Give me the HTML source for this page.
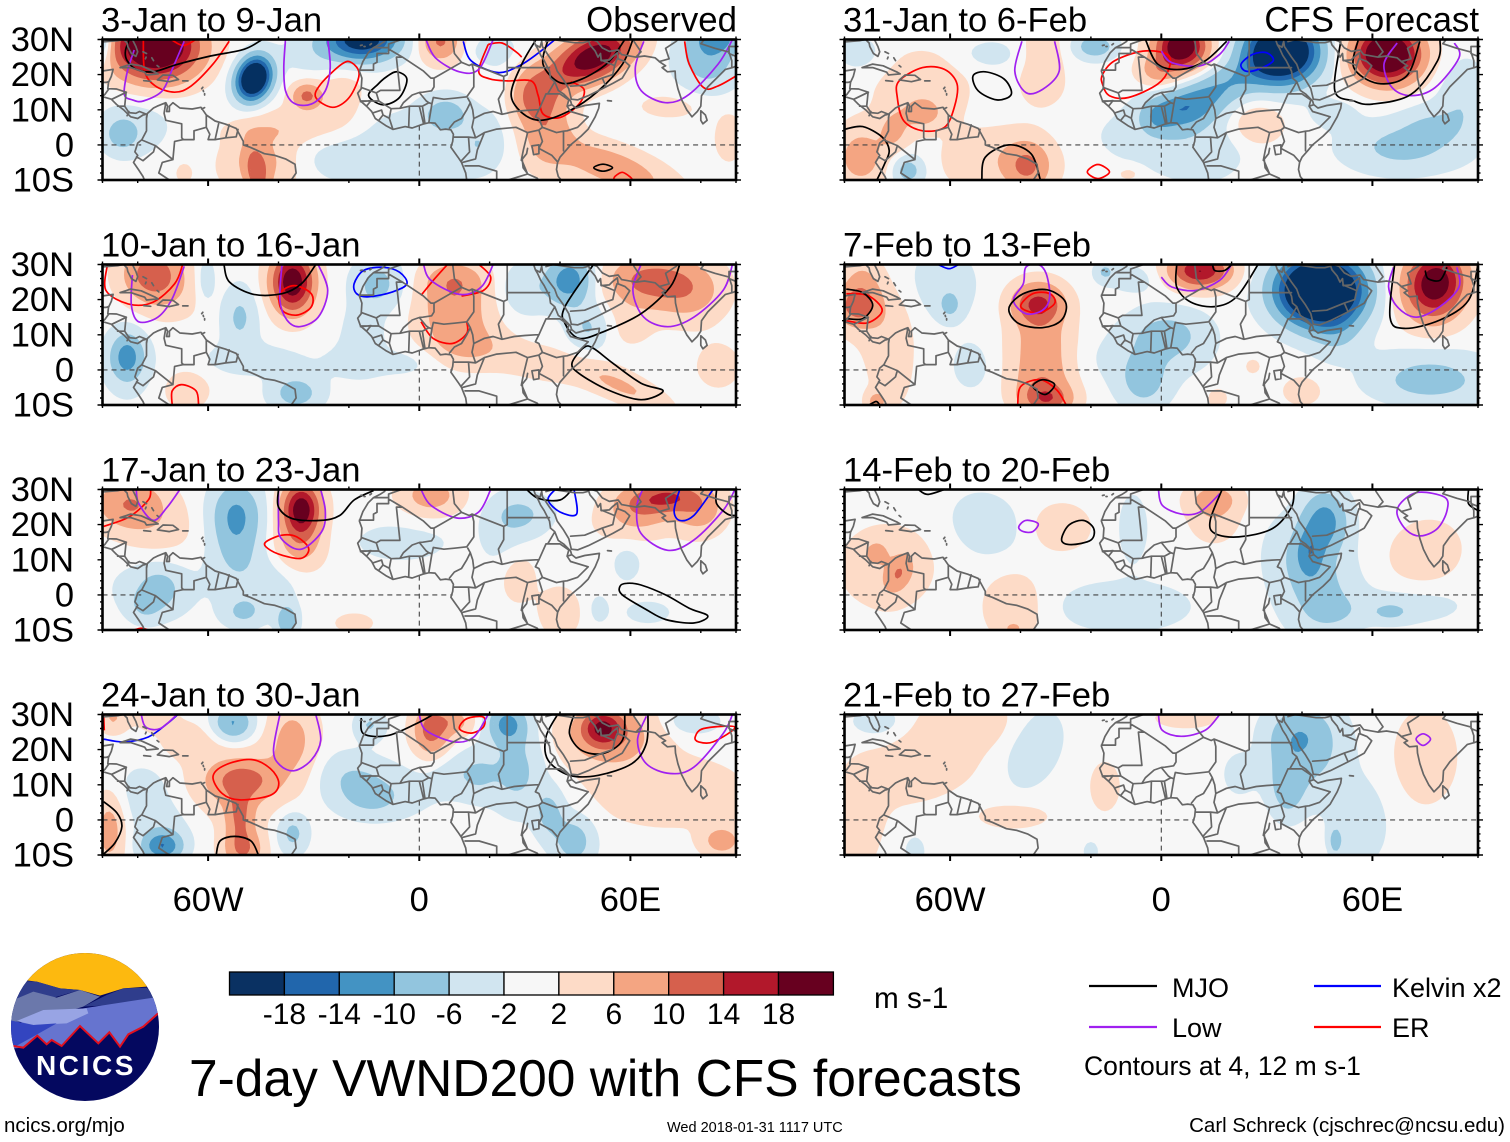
<!DOCTYPE html>
<html lang="en">
<head>
<meta charset="utf-8">
<title>7-day VWND200 with CFS forecasts</title>
<style>
html,body{margin:0;padding:0;background:#fff;}
svg{display:block;font-family:"Liberation Sans",sans-serif;}
</style>
</head>
<body>
<svg id="chart" xmlns="http://www.w3.org/2000/svg" width="1510" height="1142" viewBox="0 0 1510 1142">
  <rect width="1510" height="1142" fill="#fff"/>
  <g id="panels"></g>
  <g id="colorbar"></g>
  <text x="874" y="1008" font-size="29.7">m s-1</text>
  <text x="189" y="1096" font-size="51.5">7-day VWND200 with CFS forecasts</text>

  <g>
    <line x1="1089" x2="1157" y1="986" y2="986" stroke="#000" stroke-width="2.2"/>
    <text x="1172" y="997" font-size="27">MJO</text>
    <line x1="1089" x2="1157" y1="1027" y2="1027" stroke="#a020f0" stroke-width="2.2"/>
    <text x="1172" y="1037" font-size="27">Low</text>
    <line x1="1314" x2="1381" y1="986" y2="986" stroke="#0000ff" stroke-width="2.2"/>
    <text x="1392" y="997" font-size="27">Kelvin x2</text>
    <line x1="1314" x2="1381" y1="1027" y2="1027" stroke="#ff0000" stroke-width="2.2"/>
    <text x="1392" y="1037" font-size="27">ER</text>
    <text x="1084" y="1075" font-size="26.5">Contours at 4, 12 m s-1</text>
  </g>

  <text x="4" y="1132" font-size="20.5">ncics.org/mjo</text>
  <text x="667" y="1132" font-size="14.5">Wed 2018-01-31 1117 UTC</text>
  <text x="1505" y="1132" font-size="20.5" text-anchor="end">Carl Schreck (cjschrec@ncsu.edu)</text>

  <g>
    <clipPath id="logoClip"><circle cx="85" cy="1027" r="74"/></clipPath>
    <g clip-path="url(#logoClip)">
      <g transform="translate(0,945) scale(0.3333)">
        <rect x="0" y="0" width="520" height="520" fill="#04085f"/>
        <polygon points="0,0 520,0 520,135 440,125 370,130 300,152 240,135 180,130 110,110 70,105 0,120" fill="#fdb90f"/>
        <polygon points="70,108 110,110 180,130 240,135 120,170 40,170" fill="#2f3d8c"/>
        <polygon points="30,230 40,165 100,140 170,158 240,135 300,155 250,185 100,230" fill="#6b78ab"/>
        <polygon points="250,185 320,150 370,130 440,128 480,170 340,180" fill="#2f3d8c"/>
        <polygon points="40,310 50,235 250,190 480,155 480,205 430,245 385,268 360,305 328,262 295,295 240,243 185,303 155,285 140,298 112,272 70,308" fill="#6674cf"/>
        <polygon points="50,228 130,195 260,190 265,205 200,235 100,240" fill="#98a4e4"/>
        <polygon points="25,225 100,240 170,235 90,280 45,305 25,305" fill="#3345c0"/>
        <polyline points="40,303 70,308 112,272 140,298 155,285 185,303 240,243 295,295 328,262 360,305 385,268 430,245 480,200" fill="none" stroke="#e01020" stroke-width="6"/>
      </g>
    </g>
    <text x="86" y="1075" font-size="28" font-weight="bold" fill="#fff" text-anchor="middle" letter-spacing="2.6">NCICS</text>
  </g>
</svg>

<script>
/* ---------- panel labels ---------- */
const panelTitles = ["3-Jan to 9-Jan","10-Jan to 16-Jan","17-Jan to 23-Jan","24-Jan to 30-Jan","31-Jan to 6-Feb","7-Feb to 13-Feb","14-Feb to 20-Feb","21-Feb to 27-Feb"];
const latTickLabels = [[30,"30N"],[20,"20N"],[10,"10N"],[0,"0"],[-10,"10S"]];
const lonTickLabels = [[-60,"60W"],[0,"0"],[60,"60E"]];
const colorLevels = [2,6,10,14,18];
const warmColors = ["#fddbc7","#f4a582","#d6604d","#b2182b","#67001f"];
const coolColors = ["#d1e5f0","#92c5de","#4393c3","#2166ac","#053061"];
const colorbarColors = ["#0a3162","#2166ac","#4393c3","#92c5de","#d1e5f0","#f7f7f7","#fddbc7","#f4a582","#d6604d","#b2182b","#67001f"];
const colorbarLabels = ["-18","-14","-10","-6","-2","2","6","10","14","18"];

/* ---------- anomaly centres: [lon, lat, spreadLon, spreadLat, peak m/s, tilt] ---------- */
const blobsP1 = [
 [-75,28,8.5,6.5,28,0],[-90,30,2,5,-10,0],[-47,18.9,3.2,4.2,-32,-20],[-32,14,3,2.6,10,0],[-33,6,10,4,3,0],[-22,15,5,7,2.8,0],[-45,4,7,2.5,2.2,0],
 [-16,30,7,4,-22,0],[-27,26,8,4.5,-3,0],[-46,-9,2.3,6,8.5,8],[-45,-4,6,5,4,0],[-45,-7,10,7,2,0],[-84.5,3,3.5,3.5,-6,0],[-80,6,8,7,-2.2,0],
 [7.5,9,4.5,3.5,-6.5,0],[-5,1,18,7,-2.5,0],[0,-8,8,4,-2,0],[33,13.5,5.5,6,12,0],[49.5,25,8.5,4.5,22,25],[37,1,5,6,6,-20],
 [55,-6.5,12,4,8,-20],[6,29.5,4,4,10,0],[82,26,6,7,-8,0],[85,31,4,3,-8,0],[72,11,8,3,2.2,0],[88,2,3,5,3,0],
 [21,27,5,3,-2.5,0],[17,0,4,5,-3.5,0],[-67,-8,2,2.5,2,0],[-22,-5,8,4,-2.2,0],[25,14,4,8,-2.2,0]
];
const blobsP2 = [
 [-36,25,4.2,6,22,0],[-75.6,27.4,6,5.5,12,0],[-70,20,7,5,2,0],[-83,3.8,3.2,4.5,-9,0],[-83,2,5,7,-3,0],
 [-51,15,3.5,6,-5.5,0],[-60.7,25.5,2,5,-3.5,0],[-35,-6.6,5,3.5,-7,0],[-47,3,11,3.5,-2.5,0],[-66,-5.7,4,3.5,4.5,0],
 [-11.7,24.5,5,5,-6,0],[-16,10,4,6,-3.5,0],[10,18,7,7,8,0],[13,7,7,4.5,4,0],[10,26,6,3.5,5,0],
 [42.7,25.5,4.5,5,-12,-10],[48,12,4,4.5,-5,0],[30,23,5,5,-4,0],[64.5,25.5,8,5,10,0],[76.7,22.6,7,6,7,0],[60,13,5,5,2.2,0],
 [57.7,-4.7,10,2.8,5,-25],[30,3,15,4,2.5,-15],[85,1,5,5,2.5,0],[-20,2,6,4,-1.5,0],[-5,2,8,3,-2,0]
];
const blobsP3 = [
 [-33.5,24.5,3.8,5.2,21,0],[-34,14,5,5,6,0],[-82.4,26,7,5,9,0],[-74,18,8,6,2.5,0],[-52,24,5,6,-6.5,0],[-52,15,5,9,-6,0],
 [-42,3,6,6,-2.5,-30],[-37.5,-7.5,2,3,-9,0],[-50,-5,4,3,-5,0],[-74,1.5,4,4,-5,0],[-78,-3,3,3,-4,0],[-75,2,10,7,-2.5,0],
 [-5,15,12,5,-2,0],[25,15,5,8,-2.5,0],[29,23,6,4,-5,0],[3.3,28.3,6,4,7,0],[27.8,6,4,6,3.5,0],[40,-5,4,5,3.5,0],[-18.5,-8,4,2,3,0],
 [63,26,6,4,9,0],[71,28,5,3,10,0],[79.5,25,5,5,8,0],[60,20,8,4,2.5,0],[59,9,3,4,-2.5,0],[51,-4,2,3,-2.5,0],[65,-5,6,3,-2,0]
];
const blobsP4 = [
 [-50,11.3,6.5,3.8,8,0],[-51,1,2.8,5,8,0],[-50,-8.5,4,4,9,0],[-52,10,10,8,4,0],[-36,22.6,5,8,6,0],[-65,22.6,7,4,2.5,0],
 [-53,27.4,4,3.5,-10,0],[-73,-7.5,4,3,-13,0],[-36,-3.8,3,4,-6,0],[-88,-3,3,7,7,0],[-87,29,3,3,5,0],[-75,29,4,2.5,3,0],
 [-18.5,11.3,7,5,-4,-20],[-13,6,5,3,-3,0],[-10,8,12,6,-2.5,0],[-14,27,3,3,-5,0],[3.3,25.5,3.5,5,11,0],[10,28,4,3,6,0],
 [25,27.4,4,4,-10,0],[27.8,14,5,8,-6,0],[17,13,4,5,-4,0],[37,2,3,5,-6,0],[44,-6,4,5,-7,0],[10,13,5,4,-2.5,0],
 [52,26.4,4,3.5,13,0],[54,24,9,6,8,0],[71,8,15,7,3.5,0],[86,-6,4,3,7,0],[78,28,5,2.5,-4,0],[-78,8,6,6,-2.5,0],[-72,-1,7,5,-2,0]
];
const blobsP5 = [
 [5.7,28,5,4.5,24,0],[-1,21,4,3,6,0],[34.3,26.5,7,6,-32,0],[5.7,9.7,7,4,-7,0],[15,15.4,11,4,-9,25],[-1,8,3,3,-4,0],[0,2,14,6,-2.5,0],
 [64.2,25.8,6.5,5.5,28,0],[68.3,-0.7,11,5,-6,0],[86,12.5,5,8,-4,0],[76.5,6,6,4,-3.5,0],[-18.8,28,4,2.5,-8,0],[-48.7,25.8,6,3,-2.5,0],
 [-85.5,26,5,4,-2.5,0],[-33.7,27.6,4,5,3,0],[-33.7,17,5,5,2.5,0],[-67.8,8.8,4,3,5,0],[-68,16,10,8,3,0],[-76,4,3,4,5,0],
 [-85.4,-3.5,5,6,7,0],[-72,-7.3,3,3,-7,0],[-38,-6.3,4.5,5,8,0],[-44,-4,10,6,3.5,0],[-57,-4.5,3,4,2.5,0],[27.5,6,5,4,4.5,0],
 [-9.3,-8.2,2.5,1.5,2.5,0],[11,-4,8,5,-2.5,0],[49,9,5,3,-2.5,0]
];
const blobsP6 = [
 [-86.8,18,4.5,4,9,0],[-85,25,4,5,5,0],[-80,15,7,7,2.5,0],[-35,19,5,4,14,0],[-34,7.5,6,7,7,0],[-34,-4,6,5,6,0],[-32.4,-8.5,5,3,10,0],
 [45.2,22.6,8,6.5,-40,0],[11,28.3,6,3.5,18,0],[77.8,24.5,6,7,22,-15],[-60,18.4,2,2.5,-5,0],[-62,24,7,8,-3,0],
 [1.6,10.4,8,5,-6,0],[-5,-4,5,5,-6,0],[-5,3,12,5,-2.5,0],[76.5,-4,11,4,-6,0],[76,2,12,4,-2.5,0],[50,10,5,5,-3.5,0],
 [26,1,1.5,1.5,3,0],[40,-6,4,3,3,0],[16,-8,2,2,3,0],[-81,-9,2,2,6,0],[-77,1,5,10,2.5,0],[-54,1,4,5,-2.5,0],[-16,28,2,2,-5,0],[-8,26,6,3,-2.5,0]
];
const blobsP7 = [
 [-28.3,19.3,5.5,4.5,3.8,0],[-50,20,7,6,-3.5,-30],[-74.6,6,2.5,4,7,-25],[-81,12,2,2,6,0],[-78,8,10,9,3,0],[-42,-3.5,6,7,3.5,0],
 [-10.6,-3.3,13,5,-3.5,0],[46.5,21,4.5,6,-11,0],[42,11.8,3,5,-8,0],[45,1,7,9,-6,0],[50,-5,5,3,-2,0],[65,-5,4,2,-4,0],[70,-3,12,4,-2.5,0],
 [35,12,5,8,-2.5,0],[75,12,7,6,3.8,25],[15,27.4,5,3,6,0],[15,22,5,5,3.5,0],[-8,19,3,7,-3,0],[-42,-10,2,1.5,4,0]
];
const blobsP8 = [
 [-55,28,8,5,4,0],[-64,18,8,6,3.6,0],[-75,12,8,5,3.2,0],[-85,3,5,9,3,0],[-87,-8,3,5,3,0],[-36,20,5,8,-3.5,-25],[-16,9.5,3,5,3.2,0],
 [-42,1,7,2.5,3.2,0],[42.5,20.7,7,9,-6,0],[35,15,5,8,-3,0],[36,8,3,5,-5,0],[56,-1,6,9,-3,0],[49.5,-6,1.2,2.5,-7,0],[22,13,3,4,-3,0],
 [-20,-9,1.5,2,-3,0],[-70,-9,2,3,-3,0],[-81,28,5,3,-3,0],[38,25,6,5,-3.5,0],[75,18,6,9,3.8,0],[7,29,6,2,3.5,0]
];
const panelBlobs = [blobsP1,blobsP2,blobsP3,blobsP4,blobsP5,blobsP6,blobsP7,blobsP8];

/* ---------- filtered-wave contours: lists of [lon, lat] ---------- */
const mjoP1 = [
 [[-44.6,30],[-49.8,27.2],[-59.3,25.3],[-68.8,22.9],[-75.6,20.8],[-80.4,21.5],[-83,24],[-83.5,26.7],[-82.4,30]],
 [[-6.3,20.8],[-3.5,18.7],[-5.6,13.5],[-10.3,11.4],[-14.4,14],[-11.7,17.3],[-9,19.6],[-6.3,20.8]],
 [[33.2,30],[29.1,22.9],[26.1,14.4],[29.1,9.2],[34.6,7],[42.7,9.7],[50.9,15.4],[57.7,22.9],[60.7,30]],
 [[36.6,30],[35.2,22.9],[40,17.7],[46.1,18.7],[53.6,23.4],[58.4,30]],
 [[49.6,-6.5],[52.2,-5.5],[54.9,-6.5],[52.2,-7.5],[49.6,-6.5]]
];
const lowP1 = [
 [[-81,27],[-83,20.6],[-83.8,14.4],[-81.5,12.8],[-78.4,12.5],[-73,15.4],[-70.2,21.5],[-66.8,29.5]],
 [[-38,30],[-38.5,22],[-38,15.4],[-35.5,11.8],[-30.7,11.6],[-26.7,15.4],[-25.3,22],[-26,30]],
 [[1.9,30],[4.6,24.8],[11.4,20.8],[16.9,21.5],[21,30]],
 [[63.8,29.5],[61.4,22],[63.1,15.4],[70,12],[76.7,14.4],[84.9,23],[89,30]]
];
const kelvinP1 = [
 [[12.5,29.5],[14.8,23.9],[22.3,20.6],[28.4,22.5],[33.9,26.2],[38.6,30]]
];
const erP1 = [
 [[-78.4,30],[-78,21],[-75,16.8],[-69.5,15],[-64.8,16.8],[-58.6,23],[-54,29.5]],
 [[-70.5,30],[-67,28.3],[-63.5,30]],
 [[-19.2,23.4],[-22,23],[-28,17.3],[-29.4,13.5],[-24.6,10.7],[-19.9,13.5],[-17.1,20],[-19.2,23.4]],
 [[19.6,28.6],[23.5,29],[27.5,26.5],[29.1,25]],
 [[19.6,28.6],[16.9,21],[20,18.8],[25,18.2],[31.8,18.2],[33.8,14],[35.2,8.8],[40,7.8],[45.4,11.6],[46.8,15.8],[43,18]],
 [[75.4,29.5],[76.7,23],[80.8,16.3],[84.9,16.8],[90,19.6]],
 [[55.2,-10],[55.6,-9],[57.7,-7.8],[60,-9.2],[60.5,-10]]
];
const mjoP2 = [
 [[-55.5,30],[-53.9,25],[-47,21.5],[-39,21.7],[-33.5,24.5],[-29.4,30]],
 [[49.5,30],[41.4,18],[41.4,13.2],[45.4,9],[52.2,10.8],[63,16],[71.3,23.6],[74,30]],
 [[46.8,6.4],[43.4,1.9],[45.4,-1],[53.6,-5.7],[63,-8.5],[69.3,-6],[63,-3.8],[55,1.9],[49.5,6.1],[46.8,6.4]]
];
const lowP2 = [
 [[-81.5,27],[-81.8,18.4],[-79.7,13.7],[-74.3,15],[-70.2,20.3],[-66.8,29.5]],
 [[-39,30],[-39.6,19.8],[-37.6,14.2],[-34,12.3],[-28.7,15],[-26,22.6],[-28.7,30]],
 [[1.2,30],[3.3,25.5],[11.4,21.5],[17.6,23.6],[21,30]],
 [[63,30],[60.7,22.6],[63.8,15],[70.6,12.3],[78,15],[86.3,22.6],[89,30]]
];
const kelvinP2 = [
 [[-17.8,21.7],[-18.5,24.5],[-15.8,28.3],[-10.3,29.2],[-5.6,27.8],[-3.5,24.5],[-7.6,22.2],[-14.4,20.8],[-17.8,21.7]]
];
const erP2 = [
 [[-88.6,30],[-89,22.6],[-82.4,18.7],[-75.6,19.3],[-69.5,24.5],[-67.2,30]],
 [[-35.5,24],[-30.7,21.7],[-30.7,17.9],[-34.8,15.6],[-39,17],[-39.6,21.7],[-35.5,24]],
 [[8,30],[4,25.5],[0.5,21.2]],
 [[17,30],[20.3,26.4],[18.2,22.6],[12,21]],
 [[0.5,13.7],[3.9,9],[9.4,7.5],[13.5,10.4],[13.5,13.7]],
 [[-70.2,-10],[-70.2,-6],[-67.5,-4.2],[-63.4,-6],[-62.7,-10]]
];
const mjoP3 = [
 [[-40,30],[-40,25],[-36,21.7],[-28,21.2],[-22.6,22.6],[-18.5,27],[-13,29.7]],
 [[30.5,30],[34,27.4],[40,27],[43.4,30]],
 [[84.5,30],[84.5,26],[87.6,23],[90,22.6]],
 [[57,2.4],[57.7,0],[64.5,-4.2],[70,-7],[78,-8],[82,-6],[76.7,-3.8],[70,0],[63,2.8],[59,3.3],[57,2.4]]
];
const lowP3 = [
 [[-80.4,30],[-79.7,26],[-75.6,21.2],[-71.6,25],[-68,30]],
 [[-28,30],[-26.7,24],[-27.5,18.4],[-32,13.7],[-35.5,13.2],[-39.5,16.5],[-40,21],[-40,30]],
 [[0.5,30],[3.3,25.5],[10.7,21.9],[16.9,23.6],[20.3,30]],
 [[63.5,30],[61.8,25],[63,17.5],[70.6,12.7],[78,15.6],[86.3,24],[89.7,30]]
];
const kelvinP3 = [
 [[38.6,30],[36.6,27],[40,23.6],[44.7,23],[44,30]],
 [[83.5,30],[78,22.6],[74,21.2],[72.4,24],[74,30]]
];
const erP3 = [
 [[-89.7,19.5],[-82.4,22.2],[-77,27],[-76.3,30]],
 [[-43.7,15],[-39,17],[-34.8,16.5],[-31.4,13.2],[-33.5,10.4],[-39,11.3],[-43,13.2],[-43.7,15]],
 [[-81,-10],[-79,-9.5],[-77,-10]]
];
const mjoP4 = [
 [[-89.7,5.2],[-85.9,2],[-84.5,-1.9],[-86.5,-6.6],[-90,-10]],
 [[-57.7,-10],[-56.6,-6],[-52.5,-4.7],[-47.8,-6],[-45.7,-10]],
 [[-16.5,29],[-15.8,24.5],[-9,24],[-0.8,27.4],[3.9,30]],
 [[39.3,30],[36,23.6],[36.6,17],[42.7,12.7],[50.9,12.7],[60.4,16],[64.5,21.7],[65,30]],
 [[44,30],[42.7,24.5],[46.1,19.8],[52.2,18.9],[57.7,22.6],[58.4,30]]
];
const lowP4 = [
 [[-79,30],[-77.7,26.4],[-73.6,26],[-68.8,30]],
 [[-39.6,30],[-41.4,19.8],[-39.6,15.6],[-35.5,14],[-30.7,17],[-28,22.6],[-29.4,30]],
 [[0,30],[1.9,25.5],[10,22.2],[15.5,23.6],[19.6,30]],
 [[64.5,29.5],[62,22.6],[64.5,16],[71.3,13.2],[78,15],[86.3,24.5],[89,30]]
];
const kelvinP4 = [
 [[-89.7,23],[-83.8,22.2],[-77,23.6],[-71.6,27.4],[-68.6,30]]
];
const erP4 = [
 [[-89.7,30],[-89.5,25.5]],
 [[-58.6,12.3],[-55.2,15.6],[-47.8,17.2],[-42.3,14.6],[-39.9,10.4],[-42.3,7],[-51,5.7],[-56,7.5],[-58.6,12.3]],
 [[11.4,26],[13.5,28.8],[18.2,29.3],[18.2,26.4],[14.8,24.7],[11.4,26]],
 [[78.4,23.6],[80.8,26],[89.7,26.4],[83.5,22.2],[79.4,22.2],[78.4,23.6]]
];
const mjoP5 = [
 [[-89.8,4.5],[-84.8,5.2],[-79.3,2.2],[-77.3,-1.6],[-78.6,-5.4],[-80.7,-9.8]],
 [[-51,-9.8],[-50,-3.5],[-43.3,0],[-37,-2.5],[-34.4,-9.8]],
 [[-53.5,19.6],[-50,20.8],[-44.6,18.7],[-42.6,14.4],[-46.7,12.8],[-52,15.4],[-53.5,19.6]],
 [[-4.5,30],[-1,23],[5.7,21.5],[12.5,23.9],[18.6,29.5]],
 [[51,29.5],[49.3,15.4],[54.7,12.5],[60,11.6],[71,14.4],[78.5,23.9],[79.2,30]],
 [[56,30],[54.7,22],[61.5,17.5],[69.7,19.6],[73.5,29.5]]
];
const lowP5 = [
 [[-39.6,29.5],[-41.6,21],[-38.5,14.9],[-33.7,15.8],[-29,21],[-30.3,29.5]],
 [[0,26.7],[3,23.4],[11,22.5],[16.6,25.8],[19.3,29.5]],
 [[67,29],[63.3,23],[65.6,16.3],[71,14],[77.8,16.3],[84.6,24.8],[83.3,29]]
];
const kelvinP5 = [
 [[22.7,23],[26,25.8],[30,26.2],[31.8,23.9],[27.5,21.5],[24,21],[22.7,23]]
];
const erP5 = [
 [[-16.7,20],[-13.3,23.9],[-5.2,26.7],[1.6,25.8],[2.3,22],[-1,17.3],[-9.3,13.5],[-14.7,14],[-16.7,17.3],[-16.7,20]],
 [[-75,13.5],[-74.5,18.2],[-67.8,22],[-61.6,21.5],[-58,17.3],[-58.8,10.7],[-61.6,5],[-67.8,4],[-73.2,6.9],[-75,13.5]],
 [[-21,-7.7],[-18,-5.6],[-14.7,-7.7],[-18,-9.6],[-21,-7.7]]
];
const mjoP6 = [
 [[-89.5,23],[-84.8,22],[-82,18.4],[-84.8,14.6],[-89.5,14.6]],
 [[-43.3,17.5],[-39.2,21.7],[-32.4,22.8],[-27.2,19.3],[-28.3,14.2],[-33.7,12],[-40.5,13.2],[-43.3,17.5]],
 [[4.4,30],[4.4,23.6],[8.4,19.3],[15.2,18],[21.4,20.8],[27.5,30]],
 [[14.6,30],[15.2,28.3],[18,28.3],[20,30]],
 [[66.3,30],[65,15],[69,11.8],[79.2,14.2],[87.3,19.8],[90,30]],
 [[75,28.3],[75.8,26],[79.2,25.5],[81.2,29.2]],
 [[-36.5,-4.7],[-33.7,-2.8],[-30.3,-4.2],[-33,-7],[-36.5,-4.7]],
 [[-83,-10],[-81,-9],[-80,-10]]
];
const lowP6 = [
 [[-35,30],[-38.5,29.2],[-39.2,24.5],[-42,19.8],[-38.5,16],[-33.7,17],[-31.7,20.8],[-32.7,27.4],[-35,30]],
 [[0,26.4],[3,23.6],[9.8,22.6],[16.6,25.5],[20,30]],
 [[66,29.2],[64.6,23.6],[67,18],[72.4,15],[79.2,18],[84.6,23.6],[84,29.2]]
];
const kelvinP6 = [
 [[-63.4,30],[-60.3,28.8],[-57.6,30]]
];
const erP6 = [
 [[-89.5,21.7],[-83.4,21.2],[-79.3,17],[-83.4,13.4],[-89.5,14]],
 [[-39.9,18],[-36.5,21.7],[-31.7,21.7],[-30.3,18.9],[-35,16.2],[-39.9,18]],
 [[-40.8,-10],[-39.9,-4.7],[-34.4,-2.8],[-29.7,-5.7],[-27,-10]]
];
const mjoP7 = [
 [[-69,30],[-66.4,28.6],[-61.6,30]],
 [[-28.3,15.6],[-26.3,19.8],[-22.2,21.2],[-19.2,18.9],[-20,15.6],[-25.6,14.3],[-28.3,15.6]],
 [[37.7,30],[37,25],[31.6,18.9],[22,16.5],[15.2,17.5],[13.9,21.2],[17.3,30]],
 [[87.3,30],[87.3,26],[90,24]]
];
const lowP7 = [
 [[-0.8,30],[0.3,25.5],[5.7,23],[11,23.6],[16.6,28.8]],
 [[-40.5,19.3],[-38.5,21.2],[-35,20.3],[-36.5,18],[-39.2,18],[-40.5,19.3]],
 [[73,29.2],[68.3,26.4],[67,23],[69.7,18.4],[73.7,16.8],[78.5,18.9],[81.2,24],[80.5,27.8],[73,29.2]]
];
const kelvinP7 = [];
const erP7 = [];
const mjoP8 = [];
const lowP8 = [
 [[-0.8,30],[0.3,25.5],[5.7,23.8],[12.5,25.5],[16.6,30]],
 [[72.4,23],[74.4,24.5],[76.5,23],[74.4,21.2],[72.4,23]]
];
const kelvinP8 = [];
const erP8 = [];
const panelMjo = [mjoP1,mjoP2,mjoP3,mjoP4,mjoP5,mjoP6,mjoP7,mjoP8];
const panelLow = [lowP1,lowP2,lowP3,lowP4,lowP5,lowP6,lowP7,lowP8];
const panelKelvin = [kelvinP1,kelvinP2,kelvinP3,kelvinP4,kelvinP5,kelvinP6,kelvinP7,kelvinP8];
const panelEr = [erP1,erP2,erP3,erP4,erP5,erP6,erP7,erP8];

/* ---------- geography (lon, lat) ---------- */
const coastlines = [
 [[-9.8,30],[-9.8,29.5],[-11,28.7],[-13,27.7],[-14.5,26.2],[-16,23.7],[-17,21],[-16.3,19],[-16.5,16],[-17.5,14.7],[-16.7,12.5],[-15,11],[-13.5,9.5],[-12.5,7.5],[-9.5,5.5],[-7.5,4.4],[-4,5.2],[-2,4.8],[1,5.9],[2.7,6.3],[4.5,6.2],[6,4.3],[7.5,4.5],[9,4.3],[9.7,3],[9.5,1],[9,-0.7],[11,-3.5],[12,-5],[13.2,-8],[13.5,-10.2]],
 [[32.5,30],[33,28.5],[33.6,27.5],[34.5,25.5],[35.5,24],[37,21],[37.3,19],[38.5,18],[39.5,15.5],[41,14.5],[43,12.5],[43.3,11.5],[44.5,10.5],[47,11.2],[51.2,11.8],[51,10.4],[50,8],[48,4.5],[46,2.5],[43,0],[41.5,-1.8],[40,-3.5],[39.3,-5],[39,-7],[39.5,-9],[40.5,-10.2]],
 [[33,28.5],[34.3,27.8],[34.8,29.5],[35,28],[37,25],[38.5,23],[39.2,21],[41,18.5],[42.5,16],[43.2,13],[45,12.8],[48,14],[52,16],[55,17.5],[57.7,19],[59.8,22.5],[58.5,23.7],[56.5,24.5],[56.3,26.2],[55,25.2],[54,24.2],[51.7,24],[51.5,26],[50.8,25],[50,26.7],[48.5,28.5],[48,30],[49,30],[50.5,29.5],[52,27.6],[54,26.6],[56.5,27],[57.5,25.7],[61.5,25],[64,25.3],[67,24.8],[68.5,23.5],[70,22.5],[69,22],[70.5,20.8],[72.7,21],[72.8,19],[73.5,16],[74.5,13],[76,10],[77.5,8],[79,9.5],[80,11],[80.2,14],[82,16.5],[85,19.5],[87,21.5],[89,22],[90.2,22.5]],
 [[80,9.7],[81.3,8.5],[81.8,7],[80.6,6],[80,7],[80,9.7]],
 [[-81.5,30],[-80.5,28],[-80,26.5],[-80.5,25.2],[-81.8,26],[-82.8,28],[-83,29],[-84,30],[-85.5,29.7],[-90.2,29.3]],
 [[-90.2,21],[-87,21.5],[-87.5,19.5],[-88.3,17.8],[-88.5,16],[-86,15.9],[-83.3,15],[-83.7,11],[-82.5,9.2],[-80.5,9],[-79.5,9.5],[-77.5,8.7],[-75.5,10.5],[-74.5,11],[-72,12],[-71.5,11],[-71.8,9.5],[-71,9.5],[-71,11],[-70,12],[-68,10.5],[-64.5,10.2],[-62,10.7],[-60.5,8.5],[-58,6.8],[-55,5.9],[-52,4.7],[-50,1],[-50,0],[-48,-0.7],[-44,-2.5],[-41,-3],[-38,-4],[-35.3,-5.5],[-35,-8],[-36.5,-10.2]],
 [[-77.5,8.7],[-78.5,8.5],[-80,7.5],[-82,8],[-84,10],[-86,11.5],[-87.5,13],[-90.2,13.8]],
 [[-77.5,8],[-77.5,4],[-78.8,1.5],[-80,0.5],[-80.8,-2],[-80,-3],[-81.2,-5],[-79.8,-7],[-78.5,-9],[-78,-10.2]],
 [[-85,22],[-82,23],[-79,22.5],[-75,20.7],[-74.2,20.2],[-77.5,19.9],[-78,20.7],[-82,22],[-85,22]],
 [[-74.4,18.5],[-72.8,19.9],[-70,19.8],[-68.4,18.6],[-71,18],[-74.4,18.5]],
 [[-78.3,18.3],[-76.3,18.1]],[[-67.2,18.2],[-65.7,18.2]],[[-61.8,10.2],[-61,10.6]],
 [[-78.5,26.5],[-77.5,26]],[[-77.8,24.5],[-77.6,25]],[[-76,24.8],[-75.5,24]],[[-74.5,22.6],[-74,22.2]],
 [[-61.8,16],[-61.5,16.4]],[[-61,14.6],[-61,14.2]],[[-61.4,15.5],[-61.3,15.2]],
 [[53.5,12.6],[54.6,12.5]],[[-16.7,28.3],[-16.2,28.4]],[[-15.7,28],[-15.4,28]],[[-14,28.5],[-13.6,28.8]],
 [[32,-0.3],[34,0],[34,-2.5],[32.5,-2.8],[32,-0.3]],
 [[29.2,-3.5],[29.5,-6.5],[30.8,-8.2]]
];
const borders = [
 [[-13,27.7],[-8.7,27.7],[-8.7,28.7],[-5,30]],
 [[-17,21.3],[-13,21.3],[-13,23],[-12,23.5],[-12,26],[-8.7,26],[-8.7,27.3],[-4.8,25],[1.2,21],[3.3,19],[4.2,19],[12,23.5],[14.2,22.6],[15,23],[24,19.5],[25,20],[25,30]],
 [[-4.8,25],[-6.5,25],[-5.5,15.5],[-11,15.5],[-12.2,14.8],[-16.4,16.3]],
 [[4.2,19],[4.2,16.5],[3.5,15.4],[1,15],[0,14.9]],
 [[9.5,30],[10,26],[12,23.5]],
 [[25,22],[37,22]],
 [[15,23],[15.5,20.9],[15.5,16.5],[13.5,13.7]],
 [[24,19.5],[24,15.7],[22.5,13],[23.5,8.7]],
 [[-12.2,14.8],[-11.5,12.5],[-8,10.3],[-5.5,10.4],[-4.5,12],[-2,14.2],[0,14.9],[2,12.5],[2.7,12],[0.9,11],[-2.8,11],[-5.5,10.4]],
 [[-16.7,12.5],[-11.5,12.5]],[[-16.7,12.3],[-13.7,12.6],[-15,11]],
 [[-13.2,9.1],[-10.7,9.9],[-10.3,8.5],[-11.5,7]],
 [[-10.3,8.5],[-8.5,7.6],[-7.5,4.4]],[[-8.5,7.6],[-8,10.3]],
 [[-2.8,11],[-3,5.1]],[[0,11],[1.2,6.1]],[[0.9,11],[1.6,6.2]],
 [[2.7,6.3],[3.6,11.7],[2.7,12]],[[3.6,11.7],[4,13.5],[7,13],[10,13.3],[13.5,13.7]],
 [[8.6,4.8],[10,6.5],[12,7.5],[13.5,10],[14.5,12],[13.8,13.3]],
 [[14.5,12],[15.2,10],[15.5,7.5],[15,5],[16,2]],
 [[15.5,7.5],[18.5,9],[21,9.5],[23.5,8.7],[27,9.5],[30,9.8],[33,10],[34,10],[36,14.5],[36.5,14.5],[38.5,17.9]],
 [[9.7,2.2],[14,2.2],[16,2],[18.5,3.5],[22,4.5],[27.5,5],[30.8,3.5],[34,4.2],[35,1],[34,-1],[37.7,-3],[39.2,-4.7]],
 [[14,2.2],[14.3,-2],[12,-4.5]],[[18.5,3.5],[16.5,-1.5],[16,-4],[12.3,-5]],
 [[13,-6],[17,-6],[22,-7.5],[22,-11],[28.5,-9],[30.8,-8.3],[33.5,-9.5],[35,-11.5]],
 [[30.8,3.5],[29.6,-1.4],[29,-4.4],[30.5,-2.5],[30.8,-1]],[[29.2,-4.5],[30.8,-8.3]],
 [[34,4.2],[35,5],[34,7.5],[33,8],[34,10]],[[35,5],[39,3.5],[41,3.9],[41,-1.7]],
 [[36.5,14.5],[40,14.5],[42.5,12.8],[42,11],[43.3,11.4]],[[42,11],[43,9.5],[48,8],[45,5],[42,4],[41,3.9]],
 [[43,16.7],[47,17],[52,19],[55,20],[55.5,22.5],[56.2,24.5]],[[53,16.7],[52,19]],[[55.2,22.7],[51.6,24.2]],
 [[36,29.4],[38,30],[40,31.9]],[[38,30],[44,29.1],[46.5,29.1],[48,29.5]],
 [[61.6,25],[63,26.5],[61,29.5],[61,30.2]],[[68.2,23.7],[71,24.5],[70,27.5],[73,29.5],[74,30.5]],
 [[79,30.5],[81,30],[80,28.8],[84,27.5],[88,26.4],[88,28],[92,28]],[[88,26.4],[88.8,24],[88.8,22]],[[88,26],[90,25.2],[92,25]],
 [[-72,12],[-72.5,9],[-72,7],[-67.5,6],[-67.5,2],[-67,1.5],[-69.5,1],[-70,-4.2],[-75,-0.2],[-78.8,1.4]],
 [[-75,-0.2],[-75.5,-2],[-78.5,-4.5],[-80.3,-3.4]],[[-70,-4.2],[-73,-5],[-74,-8],[-71,-10]],
 [[-67,1.5],[-64,1.5],[-64,4],[-60.5,5],[-60.5,8.5]],[[-60.5,5],[-59.5,3],[-60,1.5],[-58,1.5],[-57,6]],
 [[-58,1.5],[-55,2],[-54,5.7]],[[-55,2],[-52,2.3],[-51.5,4.4]],
 [[-77.3,8.7],[-77.5,7.5]],[[-83.2,15],[-87.3,13]],[[-83.7,11],[-85.7,11]],[[-83,8.3],[-82.5,9.5]],
 [[-88.3,15.8],[-89.3,14.4],[-90,13.8]],[[-90,17.8],[-89,17.8],[-88.3,18]]
];
const equatorOceanSpans = [[-90,-79],[-50,9.5],[42,90]];
const meridianOceanSpan = [5.5,-10];

/* ---------- layout and axis functions ---------- */
const SVGNS = "http://www.w3.org/2000/svg";
const columnLeft = [102.5,844.5];
const rowTop = [39.5,264.5,489.5,714.5];
const frameWidth = 633.5;
const frameHeight = 140.5;
function xScale(col,lon){return columnLeft[col]+(lon+90)/180*frameWidth;}
function yScale(row,lat){return rowTop[row]+(30-lat)/40*frameHeight;}
function make(tag,attrs,parent){
  const el=document.createElementNS(SVGNS,tag);
  for(const k in attrs){el.setAttribute(k,attrs[k]);}
  if(parent){parent.appendChild(el);}
  return el;
}
function fieldAt(blobs,lon,lat){
  let sum=0;
  for(const b of blobs){
    const a=(b[5]||0)*Math.PI/180,dx=lon-b[0],dy=lat-b[1];
    const u=(dx*Math.cos(a)+dy*Math.sin(a))/b[2],v=(-dx*Math.sin(a)+dy*Math.cos(a))/b[3];
    sum+=b[4]*Math.exp(-0.5*(u*u+v*v));
  }
  return sum*(1+0.9*Math.exp(-Math.abs(sum)/4));
}
function f1(n){return n.toFixed(1);}
function bandPath(grid,lons,lats,col,row,level,sign){
  let d="";
  for(let j=0;j<lats.length-1;j++){
    let runStart=-1;
    for(let i=0;i<lons.length-1;i++){
      const vals=[grid[j][i],grid[j][i+1],grid[j+1][i+1],grid[j+1][i]];
      const flags=vals.map(function(v){return sign*v>=level;});
      const all=flags.every(Boolean),none=!flags.some(Boolean);
      if(all){if(runStart<0){runStart=i;}}
      if((!all||i===lons.length-2)&&runStart>=0){
        const end=all?i+1:i;
        d+="M"+f1(xScale(col,lons[runStart]))+" "+f1(yScale(row,lats[j]))+"L"+f1(xScale(col,lons[end]))+" "+f1(yScale(row,lats[j]))+"L"+f1(xScale(col,lons[end]))+" "+f1(yScale(row,lats[j+1]))+"L"+f1(xScale(col,lons[runStart]))+" "+f1(yScale(row,lats[j+1]))+"Z";
        runStart=-1;
      }
      if(all||none){continue;}
      const cx=[lons[i],lons[i+1],lons[i+1],lons[i]],cy=[lats[j],lats[j],lats[j+1],lats[j+1]];
      const pts=[];
      for(let k=0;k<4;k++){
        const n=(k+1)%4;
        if(flags[k]){pts.push([cx[k],cy[k]]);}
        if(flags[k]!==flags[n]){
          const t=(sign*level-vals[k])/(vals[n]-vals[k]);
          pts.push([cx[k]+t*(cx[n]-cx[k]),cy[k]+t*(cy[n]-cy[k])]);
        }
      }
      d+="M"+pts.map(function(p){return f1(xScale(col,p[0]))+" "+f1(yScale(row,p[1]));}).join("L")+"Z";
    }
  }
  return d;
}
function smoothPath(points,col,row){
  const px=points.map(function(p){return [xScale(col,p[0]),yScale(row,p[1])];});
  const n=px.length;
  const closed=n>3&&points[0][0]===points[n-1][0]&&points[0][1]===points[n-1][1];
  function at(i){
    if(closed){return px[((i%(n-1))+(n-1))%(n-1)];}
    return px[Math.max(0,Math.min(n-1,i))];
  }
  let d="M"+f1(px[0][0])+" "+f1(px[0][1]);
  for(let i=0;i<n-1;i++){
    const a=at(i-1),b=at(i),c=at(i+1),e=at(i+2);
    d+="C"+f1(b[0]+(c[0]-a[0])/6)+" "+f1(b[1]+(c[1]-a[1])/6)+" "+f1(c[0]-(e[0]-b[0])/6)+" "+f1(c[1]-(e[1]-b[1])/6)+" "+f1(c[0])+" "+f1(c[1]);
  }
  return d;
}
function polyPath(lines,col,row){
  return lines.map(function(l){return "M"+l.map(function(p){return f1(xScale(col,p[0]))+" "+f1(yScale(row,p[1]));}).join("L");}).join("");
}

/* ---------- panels ---------- */
const panelRoot=document.getElementById("panels");
panelTitles.forEach(function(title,index){
  const col=index<4?0:1,row=index%4;
  const left=columnLeft[col],top=rowTop[row],right=left+frameWidth,bottom=top+frameHeight;

  const g=make("g",{},panelRoot);
  
  

  const clip=make("clipPath",{id:"clip"+index},g);
  make("rect",{x:left,y:top,width:frameWidth,height:frameHeight},clip);

  const field=make("g",{"clip-path":"url(#clip"+index+")"},g);
  
  

  const bg=make("rect",{x:left,y:top,width:frameWidth,height:frameHeight,fill:"#f7f7f7"},field);
  
  

  const lons=[],lats=[];
  for(let lon=-90;lon<=90;lon+=1){lons.push(lon);}
  for(let lat=30;lat>=-10;lat-=1){lats.push(lat);}
  const grid=lats.map(function(lat){return lons.map(function(lon){return fieldAt(panelBlobs[index],lon,lat);});});
  colorLevels.forEach(function(level,k){
    const warm=make("path",{d:bandPath(grid,lons,lats,col,row,level,1),fill:warmColors[k]},field);
    
    
    const cool=make("path",{d:bandPath(grid,lons,lats,col,row,level,-1),fill:coolColors[k]},field);
    
    
  });

  let dashD="";
  equatorOceanSpans.forEach(function(s){dashD+="M"+f1(xScale(col,s[0]))+" "+f1(yScale(row,0))+"H"+f1(xScale(col,s[1]));});
  dashD+="M"+f1(xScale(col,0))+" "+f1(yScale(row,meridianOceanSpan[0]))+"V"+f1(yScale(row,meridianOceanSpan[1]));
  const dash=make("path",{d:dashD,fill:"none",stroke:"#444","stroke-width":1.1,"stroke-dasharray":"5 4"},field);
  
  

  const series=[[panelEr[index],"#ff0000"],[panelKelvin[index],"#0000ff"],[panelLow[index],"#a020f0"],[panelMjo[index],"#000000"]];
  series.forEach(function(s){
    s[0].forEach(function(line){
      const p=make("path",{d:smoothPath(line,col,row),fill:"none",stroke:s[1],"stroke-width":1.7,"stroke-linejoin":"round"},field);
      
      
    });
  });

  const land=make("path",{d:polyPath(coastlines,col,row)+polyPath(borders,col,row),fill:"none",stroke:"#666","stroke-width":1.7,"stroke-linejoin":"round","stroke-linecap":"round"},field);
  
  

  let tickD="";
  for(let lon=-80;lon<=90;lon+=20){
    if((lon+60)%60===0){continue;}
    const x=f1(xScale(col,lon));
    tickD+="M"+x+" "+f1(top-3)+"V"+f1(top)+"M"+x+" "+f1(bottom)+"V"+f1(bottom+3);
  }
  tickD+="M"+f1(left)+" "+f1(top-3)+"V"+f1(top)+"M"+f1(right)+" "+f1(top-3)+"V"+f1(top)+"M"+f1(left)+" "+f1(bottom)+"V"+f1(bottom+3)+"M"+f1(right)+" "+f1(bottom)+"V"+f1(bottom+3);
  for(let lat=-10;lat<=30;lat+=2){
    const y=f1(yScale(row,lat));
    const majorTick=lat%10===0;
    tickD+="M"+f1(left-(majorTick?5:2.5))+" "+y+"H"+f1(left)+"M"+f1(right)+" "+y+"H"+f1(right+(majorTick?5:2.5));
  }
  const ticks=make("path",{d:tickD,fill:"none",stroke:"#000","stroke-width":1.4},g);
  
  

  let majorD="";
  lonTickLabels.forEach(function(t){
    const x=f1(xScale(col,t[0]));
    majorD+="M"+x+" "+f1(top-6)+"V"+f1(top)+"M"+x+" "+f1(bottom)+"V"+f1(bottom+6);
  });
  const major=make("path",{d:majorD,fill:"none",stroke:"#000","stroke-width":2},g);
  
  

  const frame=make("rect",{x:left,y:top,width:frameWidth,height:frameHeight,fill:"none",stroke:"#000","stroke-width":2.6},g);
  
  

  const tt=make("text",{x:left-1.5,y:top-8,"font-size":34.6},g);
  
  
  tt.textContent=title;

  if(row===0){
    const tag=make("text",{x:right+1,y:top-8,"font-size":34.8,"text-anchor":"end"},g);
    
    
    tag.textContent=col===0?"Observed":"CFS Forecast";
  }
  if(col===0){
    latTickLabels.forEach(function(t){
      const lab=make("text",{x:74,y:yScale(row,t[0])+11.5,"font-size":34.5,"text-anchor":"end"},g);
      
      
      lab.textContent=t[1];
    });
  }
  if(row===3){
    lonTickLabels.forEach(function(t){
      const lab=make("text",{x:xScale(col,t[0]),y:911,"font-size":34.5,"text-anchor":"middle"},g);
      
      
      lab.textContent=t[1];
    });
  }
});

/* ---------- colorbar ---------- */
const barRoot=document.getElementById("colorbar");
const barLeft=229.5,barTop=972,boxWidth=54.9,boxHeight=23;
colorbarColors.forEach(function(color,i){
  const box=make("rect",{x:barLeft+i*boxWidth,y:barTop,width:boxWidth,height:boxHeight,fill:color,stroke:"#000","stroke-width":1.3},barRoot);
  
  
});
colorbarLabels.forEach(function(label,i){
  const t=make("text",{x:barLeft+(i+1)*boxWidth,y:1024,"font-size":30,"text-anchor":"middle"},barRoot);
  
  
  t.textContent=label;
});
</script>
</body>
</html>
